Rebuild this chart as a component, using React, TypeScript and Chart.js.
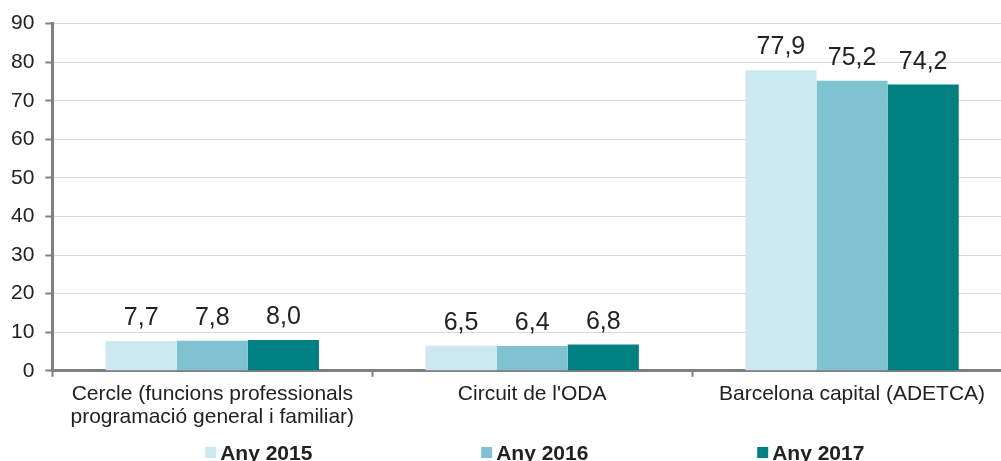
import React, { useEffect, useRef } from 'react';
import { Chart, registerables } from 'chart.js';

Chart.register(...registerables);

const categories: (string | string[])[] = [
  ['Cercle (funcions professionals', 'programació general i familiar)'],
  "Circuit de l'ODA",
  'Barcelona capital (ADETCA)',
];
const seriesNames = ['Any 2015', 'Any 2016', 'Any 2017'];
const values2015 = [7.7, 6.5, 77.9];
const values2016 = [7.8, 6.4, 75.2];
const values2017 = [8.0, 6.8, 74.2];
const seriesColors = ['#cbeaf0', '#7fc3d3', '#008080'];
const yMin = 0;
const yMax = 90;
const yStep = 10;

const FONT = "'Liberation Sans', Arial, sans-serif";
const TEXT = '#222222';
const AXIS = '#808080';

const valueLabels = {
  id: 'valueLabels',
  afterDatasetsDraw(chart: any) {
    const ctx = chart.ctx;
    ctx.save();
    ctx.font = `25px ${FONT}`;
    ctx.fillStyle = TEXT;
    ctx.textAlign = 'center';
    ctx.textBaseline = 'alphabetic';
    chart.data.datasets.forEach((ds: any, di: number) => {
      const meta = chart.getDatasetMeta(di);
      meta.data.forEach((bar: any, i: number) => {
        const v = ds.data[i] as number;
        ctx.fillText(v.toFixed(1).replace('.', ','), bar.x, bar.y - 16);
      });
    });
    ctx.restore();
  },
};

const customLegend = {
  id: 'customLegend',
  afterDraw(chart: any) {
    const ctx = chart.ctx;
    const area = chart.chartArea;
    const cx = (area.left + area.right) / 2;
    ctx.save();
    ctx.font = `bold 21px ${FONT}`;
    ctx.textBaseline = 'alphabetic';
    ctx.textAlign = 'left';
    chart.data.datasets.forEach((ds: any, i: number) => {
      const x = cx - 327 + 276 * i;
      ctx.fillStyle = ds.backgroundColor;
      ctx.fillRect(x, 447, 11, 11);
      ctx.fillStyle = TEXT;
      ctx.fillText(ds.label, x + 15, 460);
    });
    ctx.restore();
  },
};

export default function App() {
  const ref = useRef<HTMLCanvasElement | null>(null);
  useEffect(() => {
    document.body.style.margin = '0';
    if (!ref.current) return;
    const seriesValues = [values2015, values2016, values2017];
    const chart = new Chart(ref.current, {
      type: 'bar',
      data: {
        labels: categories,
        datasets: seriesNames.map((name, i) => ({
          label: name,
          data: seriesValues[i],
          backgroundColor: seriesColors[i],
          borderWidth: 0,
          categoryPercentage: 0.667,
          barPercentage: 1.0,
        })),
      },
      options: {
        responsive: false,
        animation: false,
        devicePixelRatio: 1,
        layout: { padding: { left: 0, right: 0, top: 12, bottom: 26 } },
        plugins: {
          legend: { display: false },
          tooltip: { enabled: false },
        },
        scales: {
          x: {
            grid: {
              offset: true,
              drawOnChartArea: false,
              tickLength: 6,
              tickColor: AXIS,
              tickWidth: 2,
            },
            border: { color: AXIS, width: 3 },
            ticks: {
              font: { size: 21, family: FONT, lineHeight: 1.1 },
              color: TEXT,
              padding: 6,
              maxRotation: 0,
              autoSkip: false,
            },
          },
          y: {
            min: yMin,
            max: yMax,
            ticks: {
              stepSize: yStep,
              font: { size: 21, family: FONT },
              color: TEXT,
              padding: 11,
            },
            grid: {
              color: '#d9d9d9',
              lineWidth: 1,
              tickLength: 7,
              tickColor: AXIS,
              tickWidth: 2,
            },
            border: { color: AXIS, width: 3 },
          },
        },
      },
      plugins: [valueLabels, customLegend],
    });
    return () => chart.destroy();
  }, []);
  return (
    <div style={{ width: 1001, height: 461, overflow: 'hidden', position: 'relative' }}>
      <canvas ref={ref} width={1012} height={461} style={{ display: 'block', width: 1012, height: 461 }} />
    </div>
  );
}
